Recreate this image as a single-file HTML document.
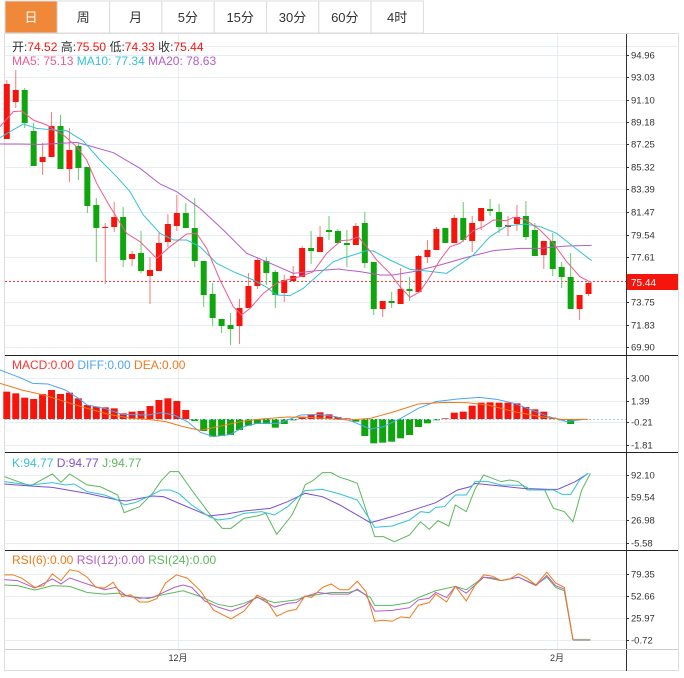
<!DOCTYPE html>
<html><head><meta charset="utf-8"><style>
body{margin:0;width:684px;height:673px;background:#fff;overflow:hidden;font-family:"Liberation Sans","Noto Sans CJK SC",sans-serif}
</style></head><body>
<svg id="s" width="684" height="673" xmlns="http://www.w3.org/2000/svg" font-family="Liberation Sans, Noto Sans CJK SC, sans-serif">
<g id="tabs"></g>
<g id="grid"></g>
<g id="g"></g>
</svg>
<script>
const NS="http://www.w3.org/2000/svg";
const G=document.getElementById('g'),GR=document.getElementById('grid'),T=document.getElementById('tabs');
function el(p,tag,a,txt){const e=document.createElementNS(NS,tag);for(const k in a)e.setAttribute(k,a[k]);if(txt!==undefined)e.textContent=txt;p.appendChild(e);return e;}
// tabs
const tabs=["日","周","月","5分","15分","30分","60分","4时"];
tabs.forEach((t,i)=>{const x=5+i*52.3;el(T,'rect',{x:x,y:1,width:52.3,height:32,fill:i==0?'#f0883a':'#fff',stroke:'#dcdcdc','stroke-width':1});
el(T,'text',{x:x+26,y:22,'text-anchor':'middle','font-size':13,fill:i==0?'#fff':'#333'},t);});
// frame
el(GR,'rect',{x:4.5,y:33.5,width:674,height:637,fill:'none',stroke:'#ddd'});
// main grid
[55,77,100,122,144,167,189,212,235,257,302,325,347].forEach(y=>el(GR,'line',{x1:5,x2:626,y1:y+.5,y2:y+.5,stroke:'#e6eef3'}));
[[475],[497],[520],[543]].forEach(a=>el(GR,'line',{x1:5,x2:626,y1:a[0]+.5,y2:a[0]+.5,stroke:'#e6eef3'}));
[378,401,422,445].forEach(y=>el(GR,'line',{x1:5,x2:626,y1:y+.5,y2:y+.5,stroke:'#e6eef3'}));
[574,596,618,640].forEach(y=>el(GR,'line',{x1:5,x2:626,y1:y+.5,y2:y+.5,stroke:'#e6eef3'}));
el(GR,'line',{x1:5,x2:678,y1:46.5,y2:46.5,stroke:'#e6eef3'});
[178,557].forEach(x=>el(GR,'line',{x1:x+.5,x2:x+.5,y1:34,y2:649,stroke:'#e6eef3'}));
// axes
el(G,'line',{x1:626.5,x2:626.5,y1:34,y2:671,stroke:'#333'});
[355,452,550].forEach(y=>el(G,'line',{x1:5,x2:678,y1:y+.5,y2:y+.5,stroke:'#222'}));
el(G,'line',{x1:5,x2:678,y1:649.5,y2:649.5,stroke:'#ccc'});
el(G,'text',{x:178,y:661,'text-anchor':'middle','font-size':9,fill:'#333'},'12月');
el(G,'text',{x:557,y:661,'text-anchor':'middle','font-size':9,fill:'#333'},'2月');
function lab(v,y){el(G,'line',{x1:626,x2:629,y1:y+.5,y2:y+.5,stroke:'#333'});el(G,'text',{x:631,y:y+3.5,'font-size':9.5,fill:'#333'},v);}
[["94.96",55],["93.03",77],["91.10",100],["89.18",122],["87.25",144],["85.32",167],["83.39",189],["81.47",212],["79.54",235],["77.61",257],["73.75",302],["71.83",325],["69.90",347]].forEach(a=>lab(a[0],a[1]));
[["3.00",378],["1.39",401],["-0.21",422],["-1.81",445],["92.10",475],["59.54",497],["26.98",520],["-5.58",543],["79.35",574],["52.66",596],["25.97",618],["-0.72",640]].forEach(a=>lab(a[0],a[1]));
// current price
el(G,'line',{x1:5,x2:626,y1:281.5,y2:281.5,stroke:'#f33','stroke-dasharray':'2,2'});
el(G,'rect',{x:627,y:274,width:51,height:16,fill:'#f5150d'});
el(G,'text',{x:631,y:286,'font-size':10,fill:'#fff'},'75.44');
// header texts
function tx(x,y,parts,fs){const t=el(G,'text',{x:x,y:y,'font-size':fs||12});parts.forEach(p=>el(t,'tspan',{fill:p[1]},p[0]));}
tx(12,51,[["开:","#333"],["74.52  ","#f5150d"],["高:","#333"],["75.50  ","#f5150d"],["低:","#333"],["74.33  ","#f5150d"],["收:","#333"],["75.44","#f5150d"]]);
G.lastChild.setAttribute('xml:space','preserve');
const m=el(G,'text',{x:12,y:65,'font-size':12});m.setAttribute('xml:space','preserve');
el(m,'tspan',{fill:'#ef5b8c'},'MA5: 75.13  ');el(m,'tspan',{fill:'#35c2d6'},'MA10: 77.34  ');el(m,'tspan',{fill:'#b35cc7'},'MA20: 78.63');
const md=el(G,'text',{x:12,y:369,'font-size':12});md.setAttribute('xml:space','preserve');
el(md,'tspan',{fill:'#f33'},'MACD:0.00  ');el(md,'tspan',{fill:'#4ba7f0'},'DIFF:0.00  ');el(md,'tspan',{fill:'#f07a1a'},'DEA:0.00');
const kd=el(G,'text',{x:12,y:467,'font-size':12});kd.setAttribute('xml:space','preserve');
el(kd,'tspan',{fill:'#35c2d6'},'K:94.77  ');el(kd,'tspan',{fill:'#7b4fd0'},'D:94.77  ');el(kd,'tspan',{fill:'#5cb85c'},'J:94.77');
const rs=el(G,'text',{x:12,y:564,'font-size':12});rs.setAttribute('xml:space','preserve');
el(rs,'tspan',{fill:'#f07a1a'},'RSI(6):0.00  ');el(rs,'tspan',{fill:'#b35cc7'},'RSI(12):0.00  ');el(rs,'tspan',{fill:'#5cb85c'},'RSI(24):0.00');
// candles: [color, bodyTop, bodyBot, wickTop, wickBot]
const C=[["r",84,139,80,139],["r",90,102,70,108],["g",90,123,88,128],["g",131,166,123,166],["r",157,162,143,175],["r",126,157,112,157],["g",126,169,115,169],["r",150,169,128,182],["g",146,168,143,180],["g",167,206,167,213],["g",205,228,198,262],["r",227,228,223,284],["r",217,227,202,232],["g",217,260,207,267],["r",254,259,251,266],["g",253,271,231,273],["r",270,276,257,304],["r",243,271,233,271],["r",224,242,214,247],["r",213,226,195,231],["g",213,228,203,228],["g",228,261,198,267],["g",261,295,261,307],["g",294,318,283,326],["g",319,326,319,333],["g",325,329,313,345],["r",308,326,299,344],["r",286,308,273,308],["r",260,286,257,289],["g",261,273,257,285],["g",272,295,270,308],["r",280,293,275,302],["r",276,281,266,281],["r",248,277,246,277],["g",248,251,231,264],["r",237,252,226,252],["g",230,232,216,240],["g",231,243,229,243],["g",243,245,230,267],["r",226,245,223,245],["g",223,263,212,268],["g",262,309,262,315],["r",301,309,301,317],["g",301,303,292,308],["r",289,304,268,304],["g",289,291,277,301],["r",256,292,255,292],["r",250,257,240,263],["r",229,250,227,250],["g",228,243,228,243],["r",218,243,215,243],["g",218,240,202,242],["r",223,241,216,252],["r",208,221,208,230],["g",209,211,199,216],["g",212,227,204,233],["r",225,227,216,236],["r",217,224,205,231],["g",216,237,201,240],["g",230,256,223,256],["r",241,255,241,269],["g",241,269,233,276],["g",267,277,262,288],["g",277,309,253,309],["r",295,309,295,320],["r",283,294,282,296]];
C.forEach((c,i)=>{const x=6.8+8.95*i;const col=c[0]=="r"?"#f5150d":"#0fa50f";const wc=c[0]=="r"?"#f77":"#6c6";
el(G,'line',{x1:x,x2:x,y1:c[3],y2:c[4],stroke:wc,'stroke-width':1});
el(G,'rect',{x:x-3,y:c[1],width:6,height:Math.max(1,c[2]-c[1]),fill:col});});
function pl(pts,col,fx,fy,w){el(G,'polyline',{points:pts.map(p=>fx(p[0])+','+fy(p[1])).join(' '),fill:'none',stroke:col,'stroke-width':w||1});}
const z2x=X=>X/3,z2y=Y=>60+Y/3,z3x=X=>340+X/3,z3y=Y=>180+Y/3;
function ma(a,b,col){const pts=a.map(p=>[z2x(p[0]),z2y(p[1])]).concat(b.map(p=>[z3x(p[0]),z3y(p[1])]));pl(pts,col,x=>x,y=>y);}
ma([[0,252],[60,252],[120,253],[180,250],[230,247],[270,258],[340,278],[420,325],[480,372],[530,395],[600,445],[670,510],[740,580],[800,605],[880,640],[940,633],[1000,628],[1020,627]],[[0,268],[60,275],[120,285],[160,285],[220,275],[300,255],[380,232],[460,212],[540,205],[600,205],[680,198],[755,196]],'#b35cc7');
ma([[0,233],[30,215],[70,192],[110,205],[160,210],[200,212],[250,243],[300,300],[350,350],[390,395],[430,465],[480,520],[520,540],[560,540],[600,560],[650,610],[700,635],[760,660],[800,682],[830,705],[870,707],[910,685],[960,640],[1000,605],[1020,598]],[[0,237],[40,225],[80,212],[100,213],[150,240],[210,268],[260,273],[320,280],[400,225],[450,170],[500,138],[555,132],[600,140],[650,160],[700,200],[755,242]],'#35c2d6');
ma([[0,200],[40,155],[65,153],[100,180],[140,195],[190,225],[230,260],[260,300],[290,370],[330,440],[380,520],[420,545],[470,595],[510,560],[560,522],[590,520],[620,565],[660,660],[700,740],[725,765],[750,745],[790,700],[830,670],[860,660],[900,650],[940,635],[980,580],[1020,545]],[[0,182],[30,180],[55,170],[80,200],[110,240],[150,280],[180,320],[210,352],[240,335],[270,290],[300,240],[330,200],[360,190],[400,152],[430,140],[460,120],[500,122],[520,112],[555,118],[600,150],[640,190],[680,245],[720,290],[755,308]],'#ef5b8c');
// MACD
const mb=[110,115,128,132,117,105,117,113,130,150,155,157,160,175,170,168,153,135,130,138,165,198,228,245,243,240,225,212,207,207,218,207,196,185,178,172,178,186,190,200,243,265,263,260,250,240,216,205,196,190,173,170,152,143,142,143,143,145,156,163,170,188,196,207,195,193];
mb.forEach((v,i)=>{const x=6.8+8.95*i;const y0=419,y=355+v/3;if(Math.abs(y-y0)<0.4)return;
el(G,'rect',{x:x-3.5,y:Math.min(y,y0),width:7,height:Math.abs(y-y0),fill:y<y0?'#f5150d':'#0fa50f'});});
el(G,'line',{x1:5,x2:626,y1:419.5,y2:419.5,stroke:'#9cd','stroke-dasharray':'2,2'});
const zx=X=>X/2.295;
pl([[0,45],[50,70],[75,85],[110,87],[150,105],[180,130],[200,150],[240,160],[280,178],[340,180],[370,173],[400,180],[430,200],[460,232],[490,245],[530,238],[560,215],[590,205],[640,205],[690,180],[730,178],[770,185],[810,200],[850,222],[880,215],[920,190],[960,160],[1000,140],[1050,132],[1100,127],[1140,133],[1180,145],[1220,165],[1260,185],[1300,200],[1340,193]],'#4ba7f0',zx,Y=>355+Y/3);
pl([[0,85],[50,105],[100,120],[150,140],[200,160],[250,178],[300,190],[340,193],[380,200],[420,215],[460,226],[500,215],[560,198],[600,192],[660,186],[720,188],[800,195],[850,190],[900,172],[960,147],[1020,142],[1070,143],[1120,150],[1180,170],[1240,185],[1290,193],[1350,193]],'#f07a1a',zx,Y=>355+Y/3);
// KDJ
const ky=Y=>450+Y/3;
pl([[10,80],[70,108],[120,72],[140,97],[160,72],[200,105],[230,110],[270,135],[285,188],[320,170],[350,130],[370,92],[390,65],[410,65],[440,120],[480,190],[510,235],[530,235],[560,205],[590,198],[610,190],[635,253],[670,195],[690,140],[700,105],[720,90],[740,68],[760,68],[780,82],[800,90],[820,100],[860,260],[880,260],[905,275],[940,255],[965,215],[985,238],[1005,212],[1030,228],[1045,165],[1070,185],[1090,118],[1110,75],[1150,95],[1170,90],[1190,95],[1210,120],[1250,120],[1270,175],[1295,185],[1315,215],[1335,120],[1355,70]],'#5cb85c',zx,ky);
pl([[10,102],[70,108],[120,112],[200,130],[270,150],[290,153],[350,138],[375,140],[420,165],[480,198],[520,192],[560,183],[620,175],[660,155],[700,130],[740,140],[780,165],[850,218],[900,200],[960,175],[1000,158],[1050,120],[1080,110],[1090,100],[1140,107],[1200,115],[1260,118],[1280,118],[1320,95],[1350,70]],'#7b4fd0',zx,ky);
pl([[10,95],[70,105],[120,98],[150,105],[170,102],[200,125],[240,135],[270,150],[285,165],[310,158],[340,140],[370,120],[390,120],[410,130],[440,165],[480,200],[500,210],[530,205],[560,190],[600,185],[630,195],[660,170],[700,122],[740,118],[780,132],[820,150],[860,232],[900,228],[940,210],[965,185],[985,188],[1000,172],[1020,170],[1045,135],[1070,135],[1090,95],[1120,95],[1150,105],[1200,106],[1220,120],[1250,120],[1270,120],[1290,133],[1310,133],[1330,90],[1350,70]],'#35c2d6',zx,ky);
// RSI
const ry=Y=>545+Y/2.95;
pl([[10,118],[40,120],[80,133],[120,120],[160,122],[200,140],[240,145],[270,142],[300,152],[340,158],[360,150],[420,135],[460,152],[500,175],[530,182],[560,172],[590,155],[630,170],[680,162],[700,152],[760,140],[800,140],[820,133],[850,155],[860,178],[900,178],[940,170],[960,155],[1000,135],[1045,122],[1070,132],[1110,95],[1150,105],[1190,95],[1230,118],[1255,95],[1275,125],[1295,135],[1315,280]],'#5cb85c',zx,ry);
pl([[10,102],[40,105],[80,127],[120,100],[140,115],[160,97],[200,115],[240,132],[265,125],[290,150],[320,157],[350,155],[400,125],[420,118],[440,125],[470,165],[500,183],[530,195],[560,180],[590,153],[630,183],[660,172],[680,170],[700,152],[730,140],[760,145],[800,145],[820,130],[840,148],[860,195],[900,193],[940,185],[960,162],[985,157],[1000,140],[1025,155],[1045,122],[1070,142],[1110,95],[1130,97],[1150,105],[1190,95],[1230,120],[1255,90],[1275,120],[1295,130],[1315,280]],'#b35cc7',zx,ry);
pl([[10,88],[30,88],[50,98],[80,125],[100,120],[120,85],[140,105],[160,73],[180,78],[200,95],[220,125],[240,127],[260,110],[280,152],[300,147],[320,168],[340,168],[360,158],[380,112],[405,88],[430,98],[460,135],[490,192],[530,218],[560,195],[590,148],[610,160],[635,210],[660,195],[680,190],[700,150],[715,155],[740,125],[760,115],[780,132],[800,132],[820,107],[840,138],[860,225],[880,222],[900,225],[920,212],[940,215],[960,178],[985,170],[1000,145],[1025,168],[1045,122],[1070,165],[1090,120],[1110,88],[1130,92],[1150,105],[1170,100],[1190,85],[1210,98],[1230,118],[1255,80],[1275,112],[1295,125],[1315,280]],'#f07a1a',zx,ry);
pl([[1315,280],[1355,280]],'#aaa89a',zx,ry,2);
</script>
</body></html>
